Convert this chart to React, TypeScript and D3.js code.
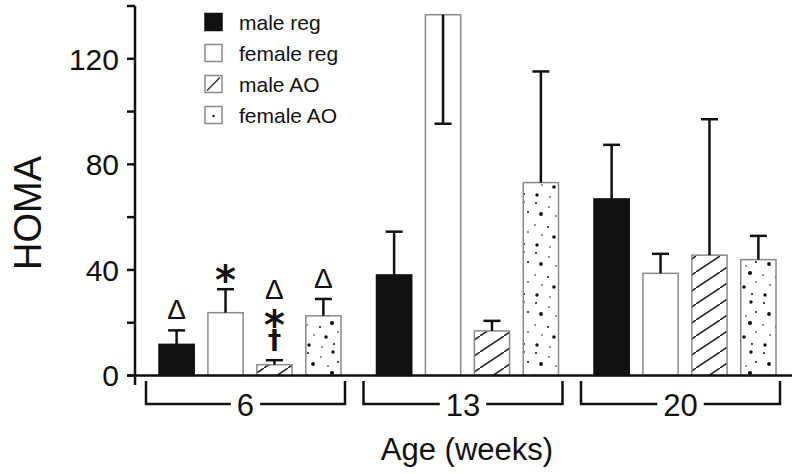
import React from "react";
import * as d3 from "d3";

// ---- data ----
const groups = ["6", "13", "20"];
const seriesNames = ["male reg", "female reg", "male AO", "female AO"];
const maleReg = [11.8, 38.1, 66.9];
const femaleReg = [23.8, 136.7, 38.7];
const maleAO = [4.1, 16.9, 45.6];
const femaleAO = [22.6, 73.1, 43.9];
const maleRegErr = [5.3, 16.4, 20.5];
const femaleRegErr = [8.9, 41.3, 7.4];
const maleAOErr = [1.7, 3.8, 51.5];
const femaleAOErr = [6.4, 42.1, 9.0];
// +1 = error bar drawn upward, -1 = downward
const maleRegErrDir = [1, 1, 1];
const femaleRegErrDir = [1, -1, 1];
const maleAOErrDir = [1, 1, 1];
const femaleAOErrDir = [1, 1, 1];
// significance symbols for the 6-week group (bottom to top)
const annotGroup = "6";
const annotSymbols = [["Δ"], ["*"], ["†", "*", "Δ"], ["Δ"]];
const yTicks = [0, 20, 40, 60, 80, 100, 120, 140];
const yTickLabels = [0, 40, 80, 120];

const seriesValues = [maleReg, femaleReg, maleAO, femaleAO];
const seriesErrs = [maleRegErr, femaleRegErr, maleAOErr, femaleAOErr];
const seriesDirs = [maleRegErrDir, femaleRegErrDir, maleAOErrDir, femaleAOErrDir];

// ---- style ----
const W = 800;
const H = 474;
const FONT = "'Liberation Sans', Arial, Helvetica, sans-serif";
const fills = ["#111111", "#ffffff", "url(#hatch)", "url(#dots)"];
const strokes = ["#111111", "#8a8a8a", "#8a8a8a", "#8a8a8a"];
// dot positions inside the repeating dot tile (texture only)
const dotTile: [number, number, number][] = [
  [4, 3, 1.0], [17, 7, 0.8], [29, 2, 1.7], [9, 14, 1.9], [24, 16, 0.8],
  [34, 12, 1.0], [3, 25, 0.8], [16, 27, 1.0], [28, 23, 2.1], [10, 35, 0.8],
  [22, 37, 1.8], [34, 32, 0.8], [5, 45, 1.7], [18, 47, 0.8], [30, 44, 1.0],
];

const y = d3.scaleLinear().domain([0, 140]).range([375.5, 6]);
const x0 = d3.scaleBand<string>().domain(groups).range([149, 782]).paddingInner(0.0897).paddingOuter(0);
const x1 = d3
  .scaleBand<string>()
  .domain(seriesNames)
  .range([10, x0.bandwidth() - 6])
  .paddingInner(0.28)
  .paddingOuter(0);

const symStyle: Record<string, { half: number; size: number; weight: string; shift: number; family: string }> = {
  "Δ": { half: 12, size: 28, weight: "normal", shift: 10, family: FONT },
  "*": { half: 9, size: 40, weight: "bold", shift: 23, family: "'DejaVu Sans', sans-serif" },
  "†": { half: 10, size: 27, weight: "bold", shift: 8, family: "'DejaVu Sans', sans-serif" },
};

export default function App() {
  const axisX = 135;
  const baseY = y(0);
  const capW = 17;

  const bars: React.ReactNode[] = [];
  const errs: React.ReactNode[] = [];
  groups.forEach((g, gi) => {
    seriesNames.forEach((s, si) => {
      const v = seriesValues[si][gi];
      const e = seriesErrs[si][gi];
      const dir = seriesDirs[si][gi];
      const bx = (x0(g) as number) + (x1(s) as number);
      const bw = x1.bandwidth();
      const top = y(v);
      bars.push(
        <rect
          key={`b-${g}-${s}`}
          x={bx}
          y={top}
          width={bw}
          height={baseY - top}
          fill={fills[si]}
          stroke={strokes[si]}
          strokeWidth={1.5}
        />
      );
      const cx = bx + bw / 2;
      const ey = y(v + dir * e);
      errs.push(
        <g key={`e-${g}-${s}`} stroke="#111" strokeWidth={2.5}>
          <line x1={cx} x2={cx} y1={top} y2={ey} />
          <line x1={cx - capW / 2} x2={cx + capW / 2} y1={ey} y2={ey} />
        </g>
      );
    });
  });

  // annotations
  const annots: React.ReactNode[] = [];
  const gi = groups.indexOf(annotGroup);
  annotSymbols.forEach((syms, si) => {
    const s = seriesNames[si];
    const cx = (x0(annotGroup) as number) + (x1(s) as number) + x1.bandwidth() / 2;
    const capY = y(seriesValues[si][gi] + seriesErrs[si][gi]);
    let center = capY - 9;
    syms.forEach((sym, k) => {
      const st = symStyle[sym];
      if (k === 0) center = center - st.half;
      else {
        const prev = symStyle[syms[k - 1]];
        center = center - prev.half - 6 - st.half;
      }
      annots.push(
        <text
          key={`a-${si}-${k}`}
          x={cx}
          y={center + st.shift}
          textAnchor="middle"
          fontSize={st.size}
          fontWeight={st.weight}
          fontFamily={st.family}
          fill="#111"
        >
          {sym}
        </text>
      );
    });
  });

  // brackets
  const brackets = groups.map((g) => {
    const left = (x0(g) as number) - 3;
    const right = (x0(g) as number) + x0.bandwidth() - 2;
    const mid = (left + right) / 2;
    const top = 381;
    const bot = 404;
    const gap = g.length * 8.6 + 6;
    return (
      <g key={`br-${g}`}>
        <path
          d={`M${left},${top}V${bot}H${mid - gap}M${mid + gap},${bot}H${right}V${top}`}
          fill="none"
          stroke="#111"
          strokeWidth={2.5}
        />
        <text x={mid} y={bot + 12} textAnchor="middle" fontSize={31} fontFamily={FONT} fill="#111">
          {g}
        </text>
      </g>
    );
  });

  const legendY0 = 22;
  const legendStep = 31;

  return (
    <svg
      width={W}
      height={H}
      style={{ position: "absolute", left: 0, top: 0, background: "#fff" }}
      xmlns="http://www.w3.org/2000/svg"
    >
      <defs>
        <pattern id="hatch" patternUnits="userSpaceOnUse" width={24} height={16}>
          <rect width={24} height={16} fill="#fff" />
          <line x1={0} y1={16} x2={24} y2={0} stroke="#222" strokeWidth={1.5} />
        </pattern>
        <pattern id="dots" patternUnits="userSpaceOnUse" width={38} height={50}>
          <rect width={38} height={50} fill="#fff" />
          {dotTile.map(([dx, dy, r], i) => (
            <circle key={i} cx={dx} cy={dy} r={r} fill="#111" />
          ))}
        </pattern>
      </defs>
      <rect width={W} height={H} fill="#fff" />

      {bars}
      {errs}
      {annots}

      {/* x baseline */}
      <line x1={127} x2={792} y1={baseY} y2={baseY} stroke="#111" strokeWidth={2.5} />
      {/* y axis */}
      <line x1={axisX} x2={axisX} y1={y(140)} y2={385} stroke="#111" strokeWidth={2.5} />
      {yTicks.map((t) => (
        <line key={`t-${t}`} x1={axisX - 8} x2={axisX} y1={y(t)} y2={y(t)} stroke="#111" strokeWidth={2.5} />
      ))}
      {yTickLabels.map((t) => (
        <text
          key={`tl-${t}`}
          x={119}
          y={y(t)}
          dy="0.36em"
          textAnchor="end"
          fontSize={30}
          fontFamily={FONT}
          fill="#111"
        >
          {t}
        </text>
      ))}
      <text
        transform={`translate(41, 213) rotate(-90)`}
        textAnchor="middle"
        fontSize={38}
        fontFamily={FONT}
        fill="#111"
      >
        HOMA
      </text>

      {brackets}
      <text x={467} y={460} textAnchor="middle" fontSize={31} fontFamily={FONT} fill="#111">
        Age (weeks)
      </text>

      {/* legend */}
      {seriesNames.map((s, i) => {
        const cy = legendY0 + i * legendStep;
        const lx = 205;
        const sz = 17;
        return (
          <g key={`lg-${s}`}>
            <rect
              x={lx}
              y={cy - sz / 2}
              width={sz}
              height={sz}
              fill={i === 0 ? "#111" : "#fff"}
              stroke={strokes[i]}
              strokeWidth={1.5}
            />
            {i === 2 && (
              <line x1={lx + 2} y1={cy + sz / 2 - 2} x2={lx + sz - 2} y2={cy - sz / 2 + 2} stroke="#333" strokeWidth={1.4} />
            )}
            {i === 3 && <circle cx={lx + sz / 2} cy={cy + 1} r={1.2} fill="#111" />}
            <text x={239} y={cy} dy="0.36em" fontSize={21} fontFamily={FONT} fill="#111">
              {s}
            </text>
          </g>
        );
      })}
    </svg>
  );
}
